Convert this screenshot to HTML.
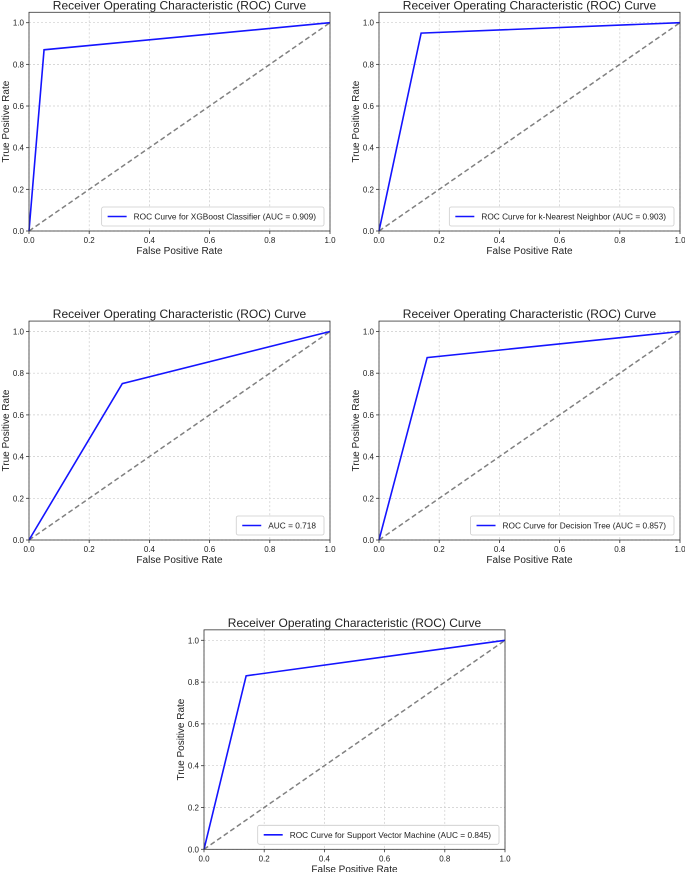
<!DOCTYPE html>
<html><head><meta charset="utf-8"><style>
body{margin:0;background:#fff;width:685px;height:872px;overflow:hidden}
svg text{font-family:"Liberation Sans","DejaVu Sans",sans-serif;fill:#222}
</style></head><body>
<svg id="root" width="685" height="872"></svg>
<script>
const chartNames=["xgboost","knn","model-3","decision-tree","svm"];
const fprValues=[[0,0.05,1],[0,0.14,1],[0,0.31,1],[0,0.16,1],[0,0.14,1]];
const tprValues=[[0,0.87,1],[0,0.95,1],[0,0.75,1],[0,0.875,1],[0,0.83,1]];
const legendLabels=["ROC Curve for XGBoost Classifier (AUC = 0.909)","ROC Curve for k-Nearest Neighbor (AUC = 0.903)","AUC = 0.718","ROC Curve for Decision Tree (AUC = 0.857)","ROC Curve for Support Vector Machine (AUC = 0.845)"];
const tickValues=[0,0.2,0.4,0.6,0.8,1.0];
const tickLabels=["0.0","0.2","0.4","0.6","0.8","1.0"];
const layouts=[{l:29,r:330,y0:231,y1:22.7},{l:379,r:680,y0:231,y1:22.7},{l:29,r:330,y0:540,y1:331.5},{l:379,r:680,y0:540,y1:331.5},{l:204,r:505,y0:849.3,y1:640.3}];
const NS="http://www.w3.org/2000/svg";
const root=document.getElementById('root');
function mk(tag,attrs,parent,txt){const e=document.createElementNS(NS,tag);for(const k in attrs)e.setAttribute(k,attrs[k]);if(txt!==undefined)e.textContent=txt;parent.appendChild(e);return e;}
chartNames.forEach((nm,i)=>{
  const L=layouts[i];
  const xs=v=>L.l+v*(L.r-L.l);
  const ys=v=>L.y0-v*(L.y0-L.y1);
  const top=ys(1.05);
  const g=mk('g',{},root);
  
  
  tickValues.forEach((t,k)=>{
    const gx=mk('line',{x1:xs(t),x2:xs(t),y1:top,y2:L.y0,stroke:'#ccc','stroke-width':0.7,'stroke-dasharray':'2,2'},g);
    
    
    const gy=mk('line',{x1:L.l,x2:L.r,y1:ys(t),y2:ys(t),stroke:'#ccc','stroke-width':0.7,'stroke-dasharray':'2,2'},g);
    
    
    mk('line',{x1:xs(t),x2:xs(t),y1:L.y0,y2:L.y0+3,stroke:'#333','stroke-width':0.8},g);
    mk('line',{x1:L.l-3,x2:L.l,y1:ys(t),y2:ys(t),stroke:'#333','stroke-width':0.8},g);
    const tx=mk('text',{x:xs(t),y:L.y0+12,'font-size':8,'text-anchor':'middle'},g,tickLabels[k]);
    
    
    const ty=mk('text',{x:L.l-5,y:ys(t)+3,'font-size':8,'text-anchor':'end'},g,tickLabels[k]);
    
    
  });
  const diag=mk('line',{x1:xs(0),y1:ys(0),x2:xs(1),y2:ys(1),stroke:'#808080','stroke-width':1.5,'stroke-dasharray':'5,3'},g);
  
  
  const pts=fprValues[i].map((f,k)=>xs(f)+','+ys(tprValues[i][k])).join(' ');
  const curve=mk('polyline',{points:pts,fill:'none',stroke:'#1414ff','stroke-width':1.6},g);
  
  
  const frame=mk('rect',{x:L.l,y:top,width:L.r-L.l,height:L.y0-top,fill:'none',stroke:'#333','stroke-width':0.8},g);
  
  
  const title=mk('text',{x:(L.l+L.r)/2,y:top-3,'font-size':12,'text-anchor':'middle'},g,'Receiver Operating Characteristic (ROC) Curve');
  
  
  const xt=mk('text',{x:(L.l+L.r)/2,y:L.y0+23,'font-size':10,'text-anchor':'middle'},g,'False Positive Rate');
  
  
  const yt=mk('text',{x:0,y:0,'font-size':10,'text-anchor':'middle',transform:`translate(${L.l-20},${(top+L.y0)/2}) rotate(-90)`},g,'True Positive Rate');
  
  
  const lg=mk('g',{},g);
  
  
  const lab=mk('text',{x:0,y:0,'font-size':8.3},lg,legendLabels[i]);
  const w=lab.getComputedTextLength()+40;
  const bx=L.r-6-w, by=L.y0-24;
  mk('rect',{x:bx,y:by,width:w,height:19,rx:2,fill:'#fff','fill-opacity':0.9,stroke:'#ccc','stroke-width':0.8},lg);
  lg.appendChild(lab);
  lab.setAttribute('x',bx+32);lab.setAttribute('y',by+12.5);
  mk('line',{x1:bx+6,x2:bx+25,y1:by+9.5,y2:by+9.5,stroke:'#1414ff','stroke-width':1.6},lg);
});
</script>
</body></html>
